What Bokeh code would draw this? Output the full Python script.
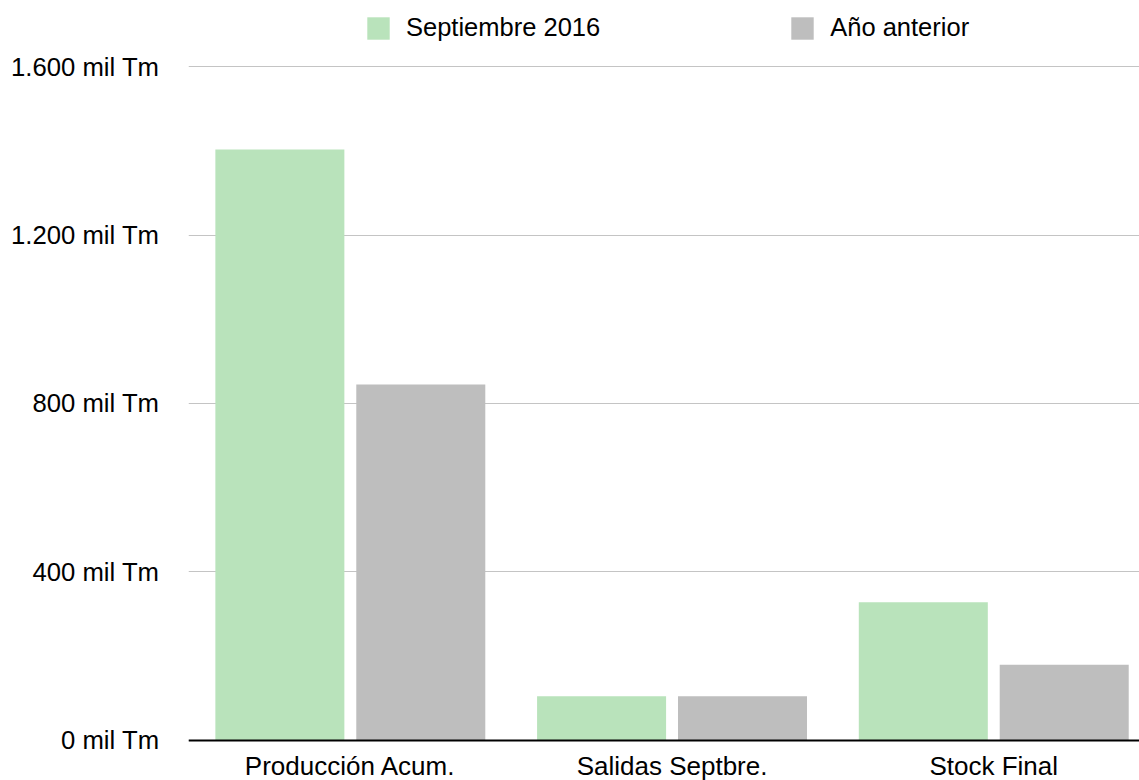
from bokeh.plotting import figure
from bokeh.models import ColumnDataSource, Range1d, FixedTicker, Legend, LegendItem, Span
from bokeh.transform import dodge
from bokeh.core.properties import value
from bokeh.embed import file_html
from bokeh.resources import INLINE

# ---- data ----
categories = ["Producción Acum.", "Salidas Septbre.", "Stock Final"]
septiembre_2016 = [1403, 105, 328]
anio_anterior = [845, 105, 180]
series_names = ["Septiembre 2016", "Año anterior"]
y_tick_values = [0, 400, 800, 1200, 1600]
y_tick_labels = ["0 mil Tm", "400 mil Tm", "800 mil Tm", "1.200 mil Tm", "1.600 mil Tm"]

GREEN = "#b9e3bb"
GRAY = "#bebebe"
FONT = "Liberation Sans"

x_pos = [i + 0.5 for i in range(len(categories))]
source = ColumnDataSource(dict(x=x_pos, cat=categories, s1=septiembre_2016, s2=anio_anterior))

p = figure(width=1139, height=780, output_backend="svg", toolbar_location=None,
           x_range=Range1d(-0.003, 2.953), y_range=Range1d(-95.0, 1756.7),
           min_border_left=188, min_border_right=0, min_border_top=0, min_border_bottom=0)
p.outline_line_color = None
p.background_fill_color = "white"

bw = 0.401
off = 0.219
r1 = p.vbar(x=dodge("x", -off, range=p.x_range), top="s1", bottom=0, width=bw, source=source,
            fill_color=GREEN, line_color=None)
r2 = p.vbar(x=dodge("x", off, range=p.x_range), top="s2", bottom=0, width=bw, source=source,
            fill_color=GRAY, line_color=None)

# baseline at zero
p.add_layout(Span(location=0, dimension="width", line_color="black", line_width=2))

# category labels under the baseline
p.text(x="x", y=0, text="cat", source=source, text_align="center", text_baseline="alphabetic",
       y_offset=26, text_font=value(FONT), text_font_size="26px", text_color="black")

p.xaxis.visible = False

p.yaxis.ticker = FixedTicker(ticks=y_tick_values)
p.yaxis.major_label_overrides = {v: l for v, l in zip(y_tick_values, y_tick_labels)}
p.yaxis.axis_line_color = None
p.yaxis.major_tick_line_color = None
p.yaxis.minor_tick_line_color = None
p.yaxis.major_tick_out = 0
p.yaxis.major_tick_in = 0
p.yaxis.major_label_standoff = 29
p.yaxis.major_label_text_font = FONT
p.yaxis.major_label_text_font_size = "25.7px"
p.yaxis.major_label_text_color = "black"

p.xgrid.grid_line_color = None
p.ygrid.grid_line_color = "#c4c4c4"
p.ygrid.grid_line_width = 1

legend = Legend(items=[LegendItem(label=series_names[0], renderers=[r1]),
                       LegendItem(label=series_names[1], renderers=[r2])],
                orientation="horizontal", location=(176, 738),
                glyph_width=28, glyph_height=28, label_standoff=14, spacing=188,
                padding=0, margin=0, border_line_color=None, background_fill_alpha=0,
                label_text_font=FONT, label_text_font_size="25.5px", label_text_color="black")
p.add_layout(legend, "center")

open("out.html", "w").write(file_html(p, INLINE))
